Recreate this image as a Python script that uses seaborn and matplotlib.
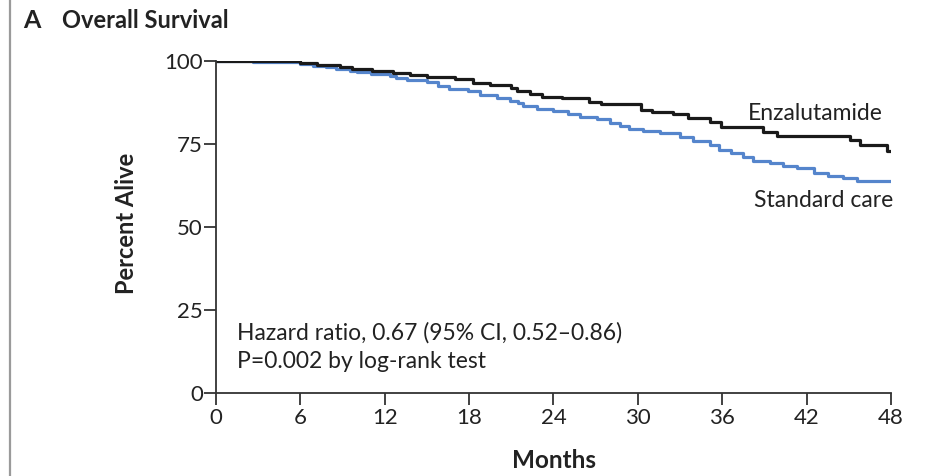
import numpy as np
import pandas as pd
import matplotlib
matplotlib.use("Agg")
import matplotlib.pyplot as plt
import seaborn as sns
from matplotlib.lines import Line2D

# Kaplan-Meier step points (month, percent alive)
enza_months = [0, 6.0, 7.2, 8.8, 9.7, 11.1, 12.6, 13.8, 15.0, 17.0, 18.3, 19.5, 21.0, 21.4,
               22.3, 23.2, 24.6, 26.5, 27.4, 30.2, 31.0, 32.5, 33.6, 35.1, 35.9, 38.9, 39.9,
               45.1, 45.8, 47.7, 48.0]
enza_pct = [100, 99.4, 98.8, 98.1, 97.6, 97.0, 96.5, 95.8, 95.3, 94.6, 93.5, 92.8, 91.8, 91.1,
            90.1, 89.1, 88.8, 87.7, 87.0, 85.2, 84.7, 84.0, 82.7, 81.7, 80.2, 78.7, 77.5,
            76.2, 74.8, 73.0, 73.0]

std_months = [0, 2.6, 6.0, 6.9, 7.8, 8.5, 9.5, 10.0, 11.0, 12.4, 12.8, 13.6, 15.0, 15.8, 16.6,
              17.9, 18.8, 20.0, 20.9, 21.5, 21.8, 22.8, 24.0, 25.0, 25.9, 27.1, 28.0, 28.7,
              29.4, 30.4, 31.6, 33.0, 33.9, 35.1, 35.8, 36.6, 37.5, 38.2, 39.4, 40.3, 41.3,
              42.5, 43.5, 44.6, 45.6, 48.0]
std_pct = [100, 99.6, 99.1, 98.6, 98.1, 97.6, 97.1, 96.7, 96.2, 95.5, 94.8, 94.2, 93.6, 92.5, 91.7,
           90.9, 89.9, 88.9, 88.1, 87.3, 86.3, 85.5, 84.8, 84.0, 83.2, 82.4, 81.2, 80.3,
           79.6, 79.0, 78.2, 77.2, 76.0, 74.7, 73.2, 72.2, 71.2, 70.0, 69.2, 68.4, 67.7,
           66.4, 65.4, 64.7, 64.0, 64.0]

x_ticks = [0, 6, 12, 18, 24, 30, 36, 42, 48]
y_ticks = [0, 25, 50, 75, 100]

df = pd.concat([
    pd.DataFrame({"Months": std_months, "Percent Alive": std_pct, "Group": "Standard care"}),
    pd.DataFrame({"Months": enza_months, "Percent Alive": enza_pct, "Group": "Enzalutamide"}),
])

sns.set_style("ticks")
plt.rcParams["font.family"] = ["Lato", "DejaVu Sans"]

fig = plt.figure(figsize=(9.42, 4.76), dpi=100)
ax = fig.add_axes([216 / 942, 1 - 393 / 476, 675 / 942, 332 / 476])

sns.lineplot(data=df, x="Months", y="Percent Alive", hue="Group",
             palette={"Standard care": "#5585cc", "Enzalutamide": "#1a1a1a"},
             hue_order=["Standard care", "Enzalutamide"],
             estimator=None, drawstyle="steps-post", linewidth=2.3,
             legend=False, ax=ax)

ax.set_xlim(0, 48)
ax.set_ylim(0, 100)
ax.set_xticks(x_ticks)
ax.set_yticks(y_ticks)
ax.tick_params(axis="both", direction="out", length=8.5, width=1.3, color="#333333",
               labelsize=16, labelcolor="#222222", bottom=True, left=True)
ax.tick_params(axis="y", pad=1)
ax.tick_params(axis="x", pad=2)
sns.despine(ax=ax)
for side in ["left", "bottom"]:
    ax.spines[side].set_visible(True)
    ax.spines[side].set_color("#333333")
    ax.spines[side].set_linewidth(1.3)
    ax.spines[side].set_zorder(5)

ax.set_xlabel("Months", fontsize=17.5, fontweight="bold", color="#222222")
ax.set_ylabel("Percent Alive", fontsize=17, fontweight="bold", color="#222222")
ax.xaxis.set_label_coords(0.5, -0.17)
ax.yaxis.set_label_coords(-0.116, 0.51)

ax.text(47.4, 82.2, "Enzalutamide", ha="right", va="baseline", fontsize=16.5, color="#222222")
ax.text(48.15, 56.0, "Standard care", ha="right", va="baseline", fontsize=16.5, color="#222222")
ax.text(1.5, 16.0, "Hazard ratio, 0.67 (95% CI, 0.52\u20130.86)", ha="left", va="baseline",
        fontsize=16.5, color="#222222")
ax.text(1.5, 7.5, "P=0.002 by log-rank test", ha="left", va="baseline",
        fontsize=16.5, color="#222222")

fig.text(23 / 942, 1 - 28 / 476, "A", fontsize=18, fontweight="bold", va="baseline", color="#222222")
fig.text(62 / 942, 1 - 28 / 476, "Overall Survival", fontsize=17, fontweight="bold",
         va="baseline", color="#222222")

# panel border line on the left
fig.add_artist(Line2D([10 / 942, 10 / 942], [0, 1], transform=fig.transFigure,
                      color="#9a9a9a", linewidth=1.6))

fig.savefig("out.png", dpi=100)
